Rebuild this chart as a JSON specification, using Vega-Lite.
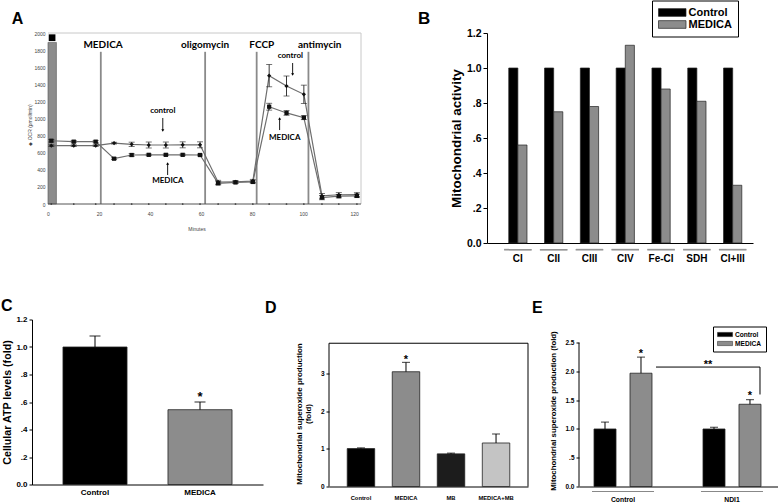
{
 "$schema": "https://vega.github.io/schema/vega-lite/v6.json",
 "background": "#ffffff",
 "padding": {"left": 1, "top": 0, "right": 0, "bottom": 0},
 "bounds": "flush",
 "spacing": 286.5,
 "resolve": {"scale": {"color": "independent", "shape": "independent", "xOffset": "independent"}, "legend": {"color": "independent", "shape": "independent"}},
 "config": {
  "view": {"stroke": null},
  "font": "Liberation Sans",
  "axis": {"grid": false, "labelColor": "#000", "titleColor": "#000", "domainColor": "#000", "tickColor": "#000", "labelFont": "Liberation Sans", "titleFont": "Liberation Sans", "labelFontWeight": "bold", "titleFontWeight": "bold", "labelOverlap": false, "labelFlush": false},
  "title": {"anchor": "start", "frame": "group", "font": "Liberation Sans", "fontWeight": "bold", "color": "#000", "baseline": "alphabetic"}
 },
 "datasets": {
  "ocr": [
   {"t": 1.3, "series": "MEDICA", "ocr": 740, "lo": 725, "hi": 755},
   {"t": 10.1, "series": "MEDICA", "ocr": 729, "lo": 717, "hi": 741},
   {"t": 18.7, "series": "MEDICA", "ocr": 729, "lo": 717, "hi": 741},
   {"t": 25.9, "series": "MEDICA", "ocr": 530, "lo": 520, "hi": 540},
   {"t": 32.8, "series": "MEDICA", "ocr": 573, "lo": 558, "hi": 588},
   {"t": 39.5, "series": "MEDICA", "ocr": 575, "lo": 565, "hi": 585},
   {"t": 46.2, "series": "MEDICA", "ocr": 575, "lo": 565, "hi": 585},
   {"t": 52.8, "series": "MEDICA", "ocr": 575, "lo": 565, "hi": 585},
   {"t": 59.6, "series": "MEDICA", "ocr": 573, "lo": 563, "hi": 583},
   {"t": 66.7, "series": "MEDICA", "ocr": 242, "lo": 224, "hi": 260},
   {"t": 73.5, "series": "MEDICA", "ocr": 252, "lo": 240, "hi": 264},
   {"t": 80.3, "series": "MEDICA", "ocr": 258, "lo": 246, "hi": 270},
   {"t": 86.7, "series": "MEDICA", "ocr": 1138, "lo": 1098, "hi": 1178},
   {"t": 93.5, "series": "MEDICA", "ocr": 1065, "lo": 1038, "hi": 1092},
   {"t": 100.3, "series": "MEDICA", "ocr": 1010, "lo": 987, "hi": 1033},
   {"t": 107.4, "series": "MEDICA", "ocr": 75, "lo": 50, "hi": 100},
   {"t": 114.0, "series": "MEDICA", "ocr": 92, "lo": 72, "hi": 112},
   {"t": 121.1, "series": "MEDICA", "ocr": 95, "lo": 75, "hi": 115},
   {"t": 1.3, "series": "Control", "ocr": 682, "lo": 672, "hi": 692},
   {"t": 10.1, "series": "Control", "ocr": 682, "lo": 672, "hi": 692},
   {"t": 18.7, "series": "Control", "ocr": 682, "lo": 672, "hi": 692},
   {"t": 25.9, "series": "Control", "ocr": 712, "lo": 702, "hi": 722},
   {"t": 32.8, "series": "Control", "ocr": 698, "lo": 673, "hi": 723},
   {"t": 39.5, "series": "Control", "ocr": 690, "lo": 655, "hi": 725},
   {"t": 46.2, "series": "Control", "ocr": 690, "lo": 655, "hi": 725},
   {"t": 52.8, "series": "Control", "ocr": 692, "lo": 657, "hi": 727},
   {"t": 59.6, "series": "Control", "ocr": 692, "lo": 657, "hi": 727},
   {"t": 66.7, "series": "Control", "ocr": 255, "lo": 233, "hi": 277},
   {"t": 73.5, "series": "Control", "ocr": 260, "lo": 245, "hi": 275},
   {"t": 80.3, "series": "Control", "ocr": 268, "lo": 248, "hi": 288},
   {"t": 86.7, "series": "Control", "ocr": 1501, "lo": 1371, "hi": 1631},
   {"t": 93.5, "series": "Control", "ocr": 1380, "lo": 1263, "hi": 1497},
   {"t": 100.3, "series": "Control", "ocr": 1283, "lo": 1176, "hi": 1390},
   {"t": 107.4, "series": "Control", "ocr": 95, "lo": 67, "hi": 123},
   {"t": 114.0, "series": "Control", "ocr": 108, "lo": 83, "hi": 133},
   {"t": 121.1, "series": "Control", "ocr": 110, "lo": 88, "hi": 132}
  ],
  "blank": [
   {"t": 1.3, "ocr": 0}, {"t": 10.1, "ocr": 0}, {"t": 18.7, "ocr": 0}, {"t": 25.9, "ocr": 0},
   {"t": 32.8, "ocr": 0}, {"t": 39.5, "ocr": 0}, {"t": 46.2, "ocr": 0}, {"t": 52.8, "ocr": 0},
   {"t": 59.6, "ocr": 0}, {"t": 66.7, "ocr": 0}, {"t": 73.5, "ocr": 0}, {"t": 80.3, "ocr": 0},
   {"t": 86.7, "ocr": 0}, {"t": 93.5, "ocr": 0}, {"t": 100.3, "ocr": 0}, {"t": 107.4, "ocr": 0},
   {"t": 114.0, "ocr": 0}, {"t": 121.1, "ocr": 0}
  ],
  "events": [
   {"event": "MEDICA", "t": 20.7, "label_t": 21.6},
   {"event": "oligomycin", "t": 61.6, "label_t": 61.6},
   {"event": "FCCP", "t": 81.8, "label_t": 83.8},
   {"event": "antimycin", "t": 102.1, "label_t": 106.5}
  ],
  "notes": [
   {"text": "control", "t": 45, "v": 1088},
   {"text": "MEDICA", "t": 47, "v": 269},
   {"text": "control", "t": 95, "v": 1731},
   {"text": "MEDICA", "t": 92.8, "v": 772}
  ],
  "arrows": [
   {"t": 45.0, "tail": 1006, "head": 860, "dir": "down"},
   {"t": 46.9, "tail": 339, "head": 474, "dir": "up"},
   {"t": 95.9, "tail": 1649, "head": 1515, "dir": "down"},
   {"t": 90.8, "tail": 865, "head": 1000, "dir": "up"}
  ],
  "calib": [{"start": 0, "end": 3.3, "top": 1890, "mid": 1.6, "flag": 1945}],
  "complexes": [
   {"complex": "CI", "group": "Control", "value": 1.0},
   {"complex": "CI", "group": "MEDICA", "value": 0.56},
   {"complex": "CII", "group": "Control", "value": 1.0},
   {"complex": "CII", "group": "MEDICA", "value": 0.75},
   {"complex": "CIII", "group": "Control", "value": 1.0},
   {"complex": "CIII", "group": "MEDICA", "value": 0.78},
   {"complex": "CIV", "group": "Control", "value": 1.0},
   {"complex": "CIV", "group": "MEDICA", "value": 1.13},
   {"complex": "Fe-CI", "group": "Control", "value": 1.0},
   {"complex": "Fe-CI", "group": "MEDICA", "value": 0.88},
   {"complex": "SDH", "group": "Control", "value": 1.0},
   {"complex": "SDH", "group": "MEDICA", "value": 0.81},
   {"complex": "CI+III", "group": "Control", "value": 1.0},
   {"complex": "CI+III", "group": "MEDICA", "value": 0.33}
  ],
  "atp": [
   {"cond": "Control", "value": 1.0, "upper": 1.08},
   {"cond": "MEDICA", "value": 0.544, "upper": 0.60}
  ],
  "sod": [
   {"cond": "Control", "value": 1.01, "upper": 1.03},
   {"cond": "MEDICA", "value": 3.06, "upper": 3.31},
   {"cond": "MB", "value": 0.87, "upper": 0.89},
   {"cond": "MEDICA+MB", "value": 1.16, "upper": 1.40}
  ],
  "ndi": [
   {"group": "Control", "treatment": "Control", "value": 1.0, "upper": 1.12},
   {"group": "Control", "treatment": "MEDICA", "value": 1.97, "upper": 2.25},
   {"group": "NDI1", "treatment": "Control", "value": 1.0, "upper": 1.03},
   {"group": "NDI1", "treatment": "MEDICA", "value": 1.43, "upper": 1.51}
  ]
 },
 "vconcat": [
  {
   "bounds": "flush",
   "spacing": 126,
   "resolve": {"scale": {"color": "independent", "shape": "independent", "xOffset": "independent"}, "legend": {"color": "independent", "shape": "independent"}},
   "hconcat": [
    {
     "width": 329, "height": 171,
     "title": {"text": "A", "dx": -20.3, "offset": 3.9, "fontSize": 16},
     "layer": [
      {"data": {"values": [{"edge": "top"}]}, "mark": {"type": "rule", "color": "#c8c8c8", "strokeWidth": 1},
       "encoding": {
        "x": {"datum": 0, "type": "quantitative", "scale": {"domain": [-6.27, 122.7], "nice": false, "zero": false},
              "axis": {"values": [0, 20, 40, 60, 80, 100, 120], "tickCount": 30, "labelOverlap": false, "domain": false, "ticks": false, "tickSize": 0, "labelPadding": 7, "labelFontSize": 5, "labelFontWeight": "normal", "labelColor": "#444", "title": "Minutes", "titleFontSize": 5, "titleFontWeight": "normal", "titleColor": "#444", "titlePadding": 10}},
        "x2": {"datum": 122.7},
        "y": {"datum": 2000, "type": "quantitative", "scale": {"domain": [0, 2000], "nice": false},
              "axis": {"values": [0, 200, 400, 600, 800, 1000, 1200, 1400, 1600, 1800, 2000], "tickCount": 30, "format": "d", "labelOverlap": false, "offset": -16, "domain": false, "ticks": false, "tickSize": 0, "labelPadding": 3, "labelFontSize": 5, "labelFontWeight": "normal", "labelColor": "#444", "title": "◆ OCR (pmol/min)", "titleFontSize": 5, "titleFontWeight": "normal", "titleColor": "#444", "titlePadding": 1.5, "titleY": 91.5}}
       }},
      {"data": {"values": [{"edge": "right"}]}, "mark": {"type": "rule", "color": "#c8c8c8", "strokeWidth": 1},
       "encoding": {"x": {"datum": 122.7, "type": "quantitative"}, "y": {"datum": 0, "type": "quantitative"}, "y2": {"datum": 2000}}},
      {"data": {"name": "calib"}, "mark": {"type": "rect", "color": "#8c8c8c", "stroke": "#555", "strokeWidth": 0.6},
       "encoding": {"x": {"field": "start", "type": "quantitative"}, "x2": {"field": "end"}, "y": {"field": "top", "type": "quantitative"}, "y2": {"datum": 0}}},
      {"data": {"name": "calib"}, "mark": {"type": "point", "shape": "square", "filled": true, "color": "#000", "size": 45, "opacity": 1},
       "encoding": {"x": {"field": "mid", "type": "quantitative"}, "y": {"field": "flag", "type": "quantitative"}}},
      {"data": {"name": "events"}, "mark": {"type": "rule", "color": "#8a8a8a", "strokeWidth": 1.8},
       "encoding": {"x": {"field": "t", "type": "quantitative"}, "y": {"datum": 0, "type": "quantitative"}, "y2": {"datum": 1780}}},
      {"data": {"name": "events"}, "mark": {"type": "text", "font": "Lato", "fontWeight": "bold", "fontSize": 10, "baseline": "middle", "color": "#000"},
       "encoding": {"x": {"field": "label_t", "type": "quantitative"}, "y": {"datum": 1860, "type": "quantitative"}, "text": {"field": "event"}}},
      {"data": {"values": [{"edge": "zero"}]}, "mark": {"type": "rule", "color": "#555", "strokeWidth": 1},
       "encoding": {"x": {"datum": 0, "type": "quantitative"}, "x2": {"datum": 122.7}, "y": {"datum": 0, "type": "quantitative"}}},
      {"data": {"name": "blank"}, "mark": {"type": "point", "shape": "circle", "filled": true, "color": "#333", "size": 3, "opacity": 1},
       "encoding": {"x": {"field": "t", "type": "quantitative"}, "y": {"field": "ocr", "type": "quantitative"}}},
      {"data": {"name": "ocr"}, "mark": {"type": "line", "color": "#6e6e6e", "strokeWidth": 1.2},
       "encoding": {"x": {"field": "t", "type": "quantitative"}, "y": {"field": "ocr", "type": "quantitative"}, "detail": {"field": "series"}}},
      {"data": {"name": "ocr"}, "mark": {"type": "rule", "color": "#222", "strokeWidth": 0.9},
       "encoding": {"x": {"field": "t", "type": "quantitative"}, "y": {"field": "lo", "type": "quantitative"}, "y2": {"field": "hi"}}},
      {"data": {"name": "ocr"}, "mark": {"type": "tick", "orient": "horizontal", "size": 6, "thickness": 0.9, "color": "#222"},
       "encoding": {"x": {"field": "t", "type": "quantitative"}, "y": {"field": "hi", "type": "quantitative"}}},
      {"data": {"name": "ocr"}, "mark": {"type": "tick", "orient": "horizontal", "size": 6, "thickness": 0.9, "color": "#222"},
       "encoding": {"x": {"field": "t", "type": "quantitative"}, "y": {"field": "lo", "type": "quantitative"}}},
      {"data": {"name": "ocr"}, "mark": {"type": "point", "filled": true, "color": "#111", "size": 18, "opacity": 1},
       "encoding": {"x": {"field": "t", "type": "quantitative"}, "y": {"field": "ocr", "type": "quantitative"},
                    "shape": {"field": "series", "type": "nominal", "scale": {"domain": ["MEDICA", "Control"], "range": ["square", "diamond"]}, "legend": null}}},
      {"data": {"name": "notes"}, "mark": {"type": "text", "font": "Lato", "fontWeight": "bold", "fontSize": 8, "baseline": "middle", "color": "#000"},
       "encoding": {"x": {"field": "t", "type": "quantitative"}, "y": {"field": "v", "type": "quantitative"}, "text": {"field": "text"}}},
      {"data": {"name": "arrows"}, "mark": {"type": "rule", "color": "#000", "strokeWidth": 0.9},
       "encoding": {"x": {"field": "t", "type": "quantitative"}, "y": {"field": "tail", "type": "quantitative"}, "y2": {"field": "head"}}},
      {"data": {"name": "arrows"}, "mark": {"type": "point", "filled": true, "color": "#000", "size": 9, "opacity": 1},
       "encoding": {"x": {"field": "t", "type": "quantitative"}, "y": {"field": "head", "type": "quantitative"},
                    "shape": {"field": "dir", "type": "nominal", "scale": {"domain": ["down", "up"], "range": ["triangle-down", "triangle-up"]}, "legend": null}}}
     ],
     "resolve": {"scale": {"shape": "independent"}}
    },
    {
     "width": 266, "height": 210,
     "title": {"text": "B", "dx": -69, "offset": -27.5, "fontSize": 17},
     "layer": [
      {"data": {"name": "complexes"}, "mark": {"type": "bar", "stroke": "#222", "strokeWidth": 0.7},
       "encoding": {
        "x": {"field": "complex", "type": "nominal", "sort": ["CI", "CII", "CIII", "CIV", "Fe-CI", "SDH", "CI+III"],
              "scale": {"paddingInner": 0.49, "paddingOuter": 0.46, "align": 0.66},
              "axis": {"title": null, "labelAngle": 0, "ticks": false, "domainWidth": 1, "labelFontSize": 10, "labelPadding": 10}},
        "xOffset": {"field": "group", "type": "nominal", "sort": ["Control", "MEDICA"], "scale": {"paddingInner": 0, "paddingOuter": 0}},
        "y": {"field": "value", "type": "quantitative", "scale": {"domain": [0, 1.2], "nice": false},
              "axis": {"values": [0, 0.2, 0.4, 0.6, 0.8, 1, 1.2], "tickCount": 30, "labelOverlap": false, "labelExpr": "datum.value == 0 ? '0.0' : datum.value >= 1 ? format(datum.value, '.1f') : replace(format(datum.value, '.1f'), '0.', '.')", "title": "Mitochondrial activity", "titleFontSize": 13.5, "titlePadding": 3, "labelFontSize": 10.5, "tickSize": 4, "labelPadding": 2}},
        "color": {"field": "group", "type": "nominal", "scale": {"domain": ["Control", "MEDICA"], "range": ["#000000", "#8c8c8c"]},
                  "legend": {"orient": "none", "legendX": 165, "legendY": -32.5, "title": null, "direction": "vertical", "strokeColor": "#000", "fillColor": "#fff", "padding": 6, "symbolType": "M-1,-0.7H4V0.7H-1Z", "symbolSize": 121, "symbolStrokeColor": "#222", "symbolStrokeWidth": 0.7, "labelFont": "Liberation Sans", "labelFontWeight": "bold", "labelFontSize": 11, "labelOffset": 18.5, "rowPadding": 0, "labelColor": "#000"}}
       }},
      {"data": {"name": "complexes"}, "mark": {"type": "tick", "orient": "horizontal", "size": 27.5, "thickness": 1.5, "color": "#8a8a8a"},
       "encoding": {"x": {"field": "complex", "type": "nominal", "sort": ["CI", "CII", "CIII", "CIV", "Fe-CI", "SDH", "CI+III"]}, "y": {"datum": -0.038, "type": "quantitative"}}}
     ]
    }
   ]
  },
  {
   "bounds": "flush",
   "spacing": 66,
   "resolve": {"scale": {"color": "independent", "xOffset": "independent"}, "legend": {"color": "independent"}},
   "hconcat": [
    {
     "width": 231, "height": 165,
     "title": {"text": "C", "dx": -31, "offset": 2, "fontSize": 16},
     "data": {"name": "atp"},
     "layer": [
      {"mark": {"type": "bar", "stroke": "#222", "strokeWidth": 0.8},
       "encoding": {
        "x": {"field": "cond", "type": "nominal", "sort": ["Control", "MEDICA"], "scale": {"paddingInner": 0.39, "paddingOuter": 0.295},
              "axis": {"title": null, "labelAngle": 0, "ticks": false, "labelFontSize": 8, "labelPadding": 4}},
        "y": {"field": "value", "type": "quantitative", "scale": {"domain": [0, 1.2], "nice": false},
              "axis": {"values": [0, 0.2, 0.4, 0.6, 0.8, 1, 1.2], "tickCount": 30, "labelOverlap": false, "labelExpr": "datum.value == 0 ? '0.0' : datum.value >= 1 ? format(datum.value, '.1f') : replace(format(datum.value, '.1f'), '0.', '.')", "title": "Cellular ATP levels (fold)", "titleFontSize": 10.7, "titlePadding": 3.5, "labelFontSize": 8, "tickSize": 3, "labelPadding": 2}},
        "color": {"field": "cond", "type": "nominal", "scale": {"domain": ["Control", "MEDICA"], "range": ["#000000", "#8c8c8c"]}, "legend": null}
       }},
      {"mark": {"type": "rule", "color": "#000", "strokeWidth": 1},
       "encoding": {"x": {"field": "cond", "type": "nominal", "sort": ["Control", "MEDICA"]}, "y": {"field": "value", "type": "quantitative"}, "y2": {"field": "upper"}}},
      {"mark": {"type": "tick", "orient": "horizontal", "size": 11, "thickness": 1.2, "color": "#000"},
       "encoding": {"x": {"field": "cond", "type": "nominal", "sort": ["Control", "MEDICA"]}, "y": {"field": "upper", "type": "quantitative"}}},
      {"data": {"values": [{"cond": "MEDICA", "y": 0.657, "mark": "*"}]},
       "mark": {"type": "text", "fontWeight": "bold", "fontSize": 13, "baseline": "middle", "dy": 3, "color": "#000"},
       "encoding": {"x": {"field": "cond", "type": "nominal", "sort": ["Control", "MEDICA"]}, "y": {"field": "y", "type": "quantitative"}, "text": {"field": "mark"}}}
     ]
    },
    {
     "bounds": "flush",
     "spacing": 51,
     "resolve": {"scale": {"color": "independent", "xOffset": "independent"}, "legend": {"color": "independent"}},
     "hconcat": [
      {
       "width": 199, "height": 167,
       "title": {"text": "D", "dx": -64, "offset": 4, "fontSize": 16},
       "resolve": {"scale": {"x": "independent"}, "axis": {"x": "independent"}},
       "layer": [
        {
         "data": {"name": "sod"},
         "layer": [
          {"mark": {"type": "bar", "stroke": "#222", "strokeWidth": 0.8},
           "encoding": {
            "x": {"field": "cond", "type": "nominal", "sort": ["Control", "MEDICA", "MB", "MEDICA+MB"], "scale": {"paddingInner": 0.39, "paddingOuter": 0.405},
                  "axis": {"title": null, "labelAngle": 0, "ticks": false, "labelFontSize": 5.8, "labelPadding": 8}},
            "y": {"field": "value", "type": "quantitative", "scale": {"domain": [0, 4.453], "nice": false},
                  "axis": {"values": [0, 1, 2, 3], "format": "d", "tickCount": 30, "labelOverlap": false, "domain": false, "tickSize": 3, "labelPadding": 2, "labelFontSize": 6.5, "title": ["Mitochondrial superoxide production", "(fold)"], "titleFontSize": 8, "titleLineHeight": 9, "titlePadding": 8, "titleY": 94}},
            "color": {"field": "cond", "type": "nominal", "scale": {"domain": ["Control", "MEDICA", "MB", "MEDICA+MB"], "range": ["#000000", "#8c8c8c", "#1c1c1c", "#c4c4c4"]}, "legend": null}
           }},
          {"mark": {"type": "rule", "color": "#000", "strokeWidth": 1},
           "encoding": {"x": {"field": "cond", "type": "nominal", "sort": ["Control", "MEDICA", "MB", "MEDICA+MB"]}, "y": {"field": "value", "type": "quantitative"}, "y2": {"field": "upper"}}},
          {"mark": {"type": "tick", "orient": "horizontal", "size": 8, "thickness": 1.1, "color": "#000"},
           "encoding": {"x": {"field": "cond", "type": "nominal", "sort": ["Control", "MEDICA", "MB", "MEDICA+MB"]}, "y": {"field": "upper", "type": "quantitative"}}},
          {"data": {"values": [{"cond": "MEDICA", "y": 3.46, "mark": "*"}]},
           "mark": {"type": "text", "fontWeight": "bold", "fontSize": 11, "baseline": "middle", "dy": 3, "color": "#000"},
           "encoding": {"x": {"field": "cond", "type": "nominal", "sort": ["Control", "MEDICA", "MB", "MEDICA+MB"]}, "y": {"field": "y", "type": "quantitative"}, "text": {"field": "mark"}}},
          {"data": {"values": [{"edge": "top"}]}, "mark": {"type": "rule", "color": "#000", "strokeWidth": 1},
           "encoding": {"y": {"datum": 3.82, "type": "quantitative"}}}
         ]
        },
        {"data": {"values": [{"side": 0}, {"side": 1}]}, "mark": {"type": "rule", "color": "#000", "strokeWidth": 1},
         "encoding": {"x": {"field": "side", "type": "quantitative", "scale": {"domain": [0, 1], "nice": false}, "axis": null}, "y": {"datum": 0, "type": "quantitative"}, "y2": {"datum": 3.82}}}
       ]
      },
      {
       "width": 199, "height": 167,
       "title": {"text": "E", "dx": -47, "offset": 4, "fontSize": 16},
       "data": {"name": "ndi"},
       "layer": [
        {"mark": {"type": "bar", "stroke": "#222", "strokeWidth": 0.8},
         "encoding": {
          "x": {"field": "group", "type": "nominal", "sort": ["Control", "NDI1"], "scale": {"paddingInner": 0.266, "paddingOuter": 0.046, "align": 0.4},
                "axis": {"title": null, "labelAngle": 0, "ticks": false, "labelFontSize": 6.8, "labelPadding": 9.5}},
          "xOffset": {"field": "treatment", "type": "nominal", "sort": ["Control", "MEDICA"], "scale": {"paddingInner": 0.389, "paddingOuter": 0.306}},
          "y": {"field": "value", "type": "quantitative", "scale": {"domain": [0, 2.904], "nice": false},
                "axis": {"values": [0, 0.5, 1, 1.5, 2, 2.5], "tickCount": 30, "labelOverlap": false, "labelExpr": "datum.value == 0 ? '0.0' : datum.value >= 1 ? format(datum.value, '.1f') : replace(format(datum.value, '.1f'), '0.', '.')", "domain": false, "tickSize": 3, "labelPadding": 2, "labelFontSize": 6.5, "title": "Mitochondrial superoxide production (fold)", "titleFontSize": 7.8, "titlePadding": 7, "titleY": 91}},
          "color": {"field": "treatment", "type": "nominal", "scale": {"domain": ["Control", "MEDICA"], "range": ["#000000", "#8c8c8c"]},
                    "legend": {"orient": "none", "legendX": 134, "legendY": 7, "title": null, "direction": "vertical", "strokeColor": "#000", "fillColor": "#fff", "padding": 4, "symbolType": "M-1,-0.6H3.3V0.6H-1Z", "symbolSize": 49, "symbolStrokeColor": "#222", "symbolStrokeWidth": 0.5, "labelFont": "Liberation Sans", "labelFontWeight": "bold", "labelFontSize": 6.6, "labelOffset": 10, "rowPadding": 1, "labelColor": "#000"}}
         }},
        {"mark": {"type": "rule", "color": "#000", "strokeWidth": 1},
         "encoding": {"x": {"field": "group", "type": "nominal", "sort": ["Control", "NDI1"]}, "xOffset": {"field": "treatment", "type": "nominal", "sort": ["Control", "MEDICA"]}, "y": {"field": "value", "type": "quantitative"}, "y2": {"field": "upper"}}},
        {"mark": {"type": "tick", "orient": "horizontal", "size": 8, "thickness": 1.1, "color": "#000"},
         "encoding": {"x": {"field": "group", "type": "nominal", "sort": ["Control", "NDI1"]}, "xOffset": {"field": "treatment", "type": "nominal", "sort": ["Control", "MEDICA"]}, "y": {"field": "upper", "type": "quantitative"}}},
        {"data": {"values": [{"group": "Control", "treatment": "MEDICA", "y": 2.35, "mark": "*"}, {"group": "NDI1", "treatment": "MEDICA", "y": 1.62, "mark": "*"}]},
         "mark": {"type": "text", "fontWeight": "bold", "fontSize": 11, "baseline": "middle", "dy": 3, "color": "#000"},
         "encoding": {"x": {"field": "group", "type": "nominal", "sort": ["Control", "NDI1"]}, "xOffset": {"field": "treatment", "type": "nominal", "sort": ["Control", "MEDICA"]}, "y": {"field": "y", "type": "quantitative"}, "text": {"field": "mark"}}},
        {"data": {"values": [{"group": "NDI1", "y": 2.16, "mark": "**"}]},
         "mark": {"type": "text", "fontWeight": "bold", "fontSize": 11, "baseline": "middle", "dy": 3, "dx": -24, "color": "#000"},
         "encoding": {"x": {"field": "group", "type": "nominal", "sort": ["Control", "NDI1"]}, "y": {"field": "y", "type": "quantitative"}, "text": {"field": "mark"}}},
        {"data": {"values": [{"from": "Control", "to": "NDI1", "level": 2.077}]},
         "mark": {"type": "rule", "color": "#000", "strokeWidth": 1, "xOffset": 33, "x2Offset": 28},
         "encoding": {"x": {"field": "from", "type": "nominal", "sort": ["Control", "NDI1"]}, "x2": {"field": "to"}, "y": {"field": "level", "type": "quantitative"}}},
        {"data": {"values": [{"at": "NDI1", "level": 2.077, "end": 1.60}]},
         "mark": {"type": "rule", "color": "#000", "strokeWidth": 1, "xOffset": 28},
         "encoding": {"x": {"field": "at", "type": "nominal", "sort": ["Control", "NDI1"]}, "y": {"field": "level", "type": "quantitative"}, "y2": {"field": "end"}}},
        {"data": {"values": [{"group": "Control"}, {"group": "NDI1"}]},
         "mark": {"type": "tick", "orient": "horizontal", "size": 62, "thickness": 1.2, "color": "#555"},
         "encoding": {"x": {"field": "group", "type": "nominal", "sort": ["Control", "NDI1"]}, "y": {"datum": -0.087, "type": "quantitative"}}},
        {"data": {"values": [{"group": "Control"}]},
         "mark": {"type": "rule", "color": "#000", "strokeWidth": 1, "xOffset": -44},
         "encoding": {"x": {"field": "group", "type": "nominal", "sort": ["Control", "NDI1"]}, "y": {"datum": 0, "type": "quantitative"}, "y2": {"datum": 2.5}}}
       ]
      }
     ]
    }
   ]
  }
 ]
}
